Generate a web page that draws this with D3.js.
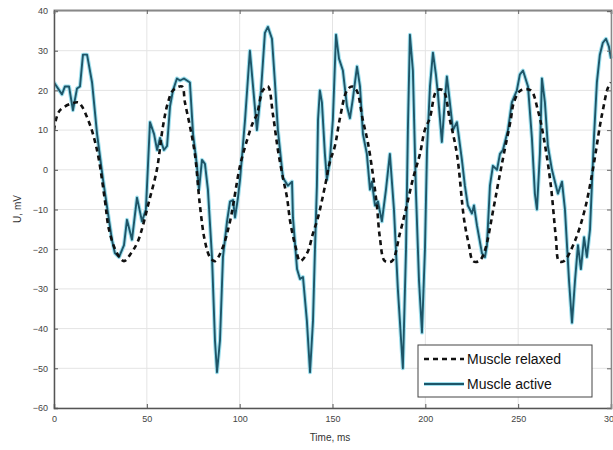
<!DOCTYPE html>
<html><head><meta charset="utf-8">
<script src="https://cdn.jsdelivr.net/npm/d3@7"></script>
<style>html,body{margin:0;padding:0;background:#fff;overflow:hidden}</style>
</head><body><svg id="c" width="613" height="450"></svg>
<script>
const xTicks = [0, 50, 100, 150, 200, 250, 300];
const yTicks = [40, 30, 20, 10, 0, -10, -20, -30, -40, -50, -60];
const seriesNames = ["Muscle relaxed", "Muscle active"];
const xTitle = "Time, ms";
const yTitle = "U, mV";

const relaxedT = [0,3.2,13,15,18,21,24,27.5,29.6,33.9,37.7,41.5,45.2,51.7,55.4,58.7,61.4,64.1,68.9,70.5,73.2,75.9,78.6,81.3,84,86.7,90.5,94.8,100.2,104,107.2,109.3,112.5,115.2,117.9,120.6,123.3,125.5,127.2,129.9,132.6,136.3,139.5,142.2,146,148.6,151.3,154,157.8,160.5,163,166.3,169,171.7,173.9,175.5,178.2,182,186.3,190,193.2,197.1,199.7,202.4,206.2,209.5,213.2,217,220.9,223.5,225.7,228.9,231.6,237,239.6,242.3,246,247.7,251.4,256.8,260.6,263.8,267.6,270.3,272,274.6,280.5,285.9,290.2,294,295.6,298.3,300];
const relaxedV = [10,15,17,16,13,9,3,-8,-15,-21,-23,-21,-18,-7,0,11,17,20,21,17,11,4,-9,-18,-22,-23,-20,-13,1,7.5,12,14,20,21,14,5,-2,-7,-13,-19,-23,-21,-16,-12,-4,2,6,13,20,21,20,12.6,7,-1,-9,-17,-23,-23,-16,-9,-2.5,4,10,13,20,20,12.6,4,-12.6,-19,-23,-23,-21,-9,-2.5,4,12.6,17,20,20,15,8,-4,-17,-23,-23,-18,-10,0,11,15,20.6,22];

const activeT = [0,4.3,5.9,8.1,10.2,12.4,14,15.6,17.8,20.5,23.2,26.4,29.1,31.2,32.8,35,37.7,39.3,42,44.7,47.4,49.5,51.7,53.9,55.5,57.1,59.2,60.9,62.5,64.1,66.2,67.9,70,73.2,74.9,77,78.1,79.7,81.3,82.9,85.1,86.7,87.8,89.4,91,93.2,94.8,96.4,97.5,99.1,100.2,102.9,105.5,107.2,109.3,111.5,113.6,115.2,117.4,119,120.6,123.3,126,128.2,128.7,130.9,132.5,134.1,136.2,137.9,139.5,140.5,141.6,142.2,143.2,144.3,145.9,147,148.6,150.2,151.9,153.5,155.6,157.8,159.4,161,163.2,164.8,166.4,168.5,170.2,171.2,172.9,174.5,176.6,178.8,180.9,183.1,185.2,187.9,189.6,190.6,191.7,193.3,194.9,196.6,198.2,199.8,200.9,202.5,204.1,205.7,206.8,208.9,210.6,211.6,213.2,214.9,217,219.7,221.3,222.9,225.1,226.2,227.8,230.5,232.1,233.2,234.8,236.4,238.6,240.2,241.8,244.5,246.6,249.3,250.9,252.6,255.3,257.4,259,260.1,261.7,262.8,264.4,266,268.2,269.8,271.4,273.6,275.2,277.4,279,280.6,282.2,283.8,285.5,287,288.7,290.8,292.4,294,295.6,297.3,298.9,300];
const activeV = [22,19,21,21,15,20.5,21,29,29,22,9,-2.5,-11,-17.6,-21,-22,-19,-12.6,-17.6,-7,-13,-10,12,9,5,8,5,6,16,20,23,22.5,23,22,9,1,-5,2.5,1.5,-5,-22,-43,-51,-43,-22,-13,-8,-7.6,-12,-7,-2.5,12.6,30,21,10,20,34.5,36,33,22,10,-2,-4,-3,-12,-25,-27.5,-27,-38,-51,-38,-21,-4,12.6,20,17,4,-2.5,2.5,12.6,34,28,25,16,13,18,26,21,9,4,-5,-3,-9,-8,-13,-5,4,-10,-30,-50,-20,10,34,25,-5,-28,-41,-20,5,21,29.5,24,19,7,18,23.5,17,10,12,2.5,-4,-9,-11,-9,-14,-21,-22,-19,-4,1,0,4,5,10,17,20,24,25,21,8,-6,-10,4,23,17,6,0,-3,-6,-3,-10,-28,-38.5,-28,-19,-25,-17,-22,-15,8,22,29,32,33,31,28];

const svg = d3.select("#c");
const x = d3.scaleLinear().domain([0, 300]).range([54, 611]);
const y = d3.scaleLinear().domain([-60, 40]).range([408, 11]);
const fontFam = "'Liberation Sans', Arial, sans-serif";

// grid
const g = svg.append("g");
g.selectAll("line.gx").data(xTicks).enter().append("line")
  .attr("x1", d => x(d)).attr("x2", d => x(d)).attr("y1", y(40)).attr("y2", y(-60))
  .attr("stroke", "#e4e4e4").attr("stroke-width", 1);
g.selectAll("line.gy").data(yTicks).enter().append("line")
  .attr("x1", x(0)).attr("x2", x(300)).attr("y1", d => y(d)).attr("y2", d => y(d))
  .attr("stroke", "#e4e4e4").attr("stroke-width", 1);

// lines
const relaxed = relaxedT.map((t, i) => [t, relaxedV[i]]);
const active = activeT.map((t, i) => [t, activeV[i]]);
const lineR = d3.line().x(d => x(d[0])).y(d => y(d[1])).curve(d3.curveCatmullRom);
const lineA = d3.line().x(d => x(d[0])).y(d => y(d[1]));

const clip = svg.append("clipPath").attr("id", "pc").append("rect")
  .attr("x", 54).attr("y", 10).attr("width", 559).attr("height", 399);
const pl = svg.append("g").attr("clip-path", "url(#pc)");
pl.append("path").datum(active).attr("d", lineA).attr("fill", "none")
  .attr("stroke", "#9fe0ee").attr("stroke-width", 4).attr("stroke-linejoin", "round");
pl.append("path").datum(active).attr("d", lineA).attr("fill", "none")
  .attr("stroke", "#1e5568").attr("stroke-width", 1.9).attr("stroke-linejoin", "round");
pl.append("path").datum(relaxed).attr("d", lineR).attr("fill", "none")
  .attr("stroke", "#111").attr("stroke-width", 2.6).attr("stroke-dasharray", "5,4");

// axes
const ax = svg.append("g").attr("font-family", fontFam);
const xAxis = d3.axisBottom(x).tickValues(xTicks).tickSize(-4).tickPadding(8);
const yAxis = d3.axisLeft(y).tickValues(yTicks).tickSize(-4).tickPadding(6);
const xa = ax.append("g").attr("transform", "translate(0,408)").call(xAxis);
const ya = ax.append("g").attr("transform", "translate(54,0)").call(yAxis);
[xa, ya].forEach(a => {
  a.select(".domain").attr("stroke", "#555").attr("stroke-width", 1.5);
  a.selectAll(".tick line").attr("stroke", "#555");
  a.selectAll(".tick text").attr("font-size", 9).attr("fill", "#444").attr("font-family", fontFam);
});
// top & right box
const xTop = d3.axisTop(x).tickValues(xTicks).tickSize(-4).tickFormat("");
const xt = ax.append("g").attr("transform", "translate(0,10)").call(xTop);
xt.select(".domain").attr("stroke", "#888").attr("stroke-width", 2);
xt.selectAll(".tick line").attr("stroke", "#666");
const yRight = d3.axisRight(y).tickValues(yTicks).tickSize(-4).tickFormat("");
const yr = ax.append("g").attr("transform", "translate(611,0)").call(yRight);
yr.select(".domain").attr("stroke", "#888").attr("stroke-width", 1.5);
yr.selectAll(".tick line").attr("stroke", "#666");

svg.append("text").attr("x", 330).attr("y", 441).attr("text-anchor", "middle")
  .attr("font-family", fontFam).attr("font-size", 10).attr("fill", "#333").text(xTitle);
svg.append("text").attr("transform", "translate(21,209) rotate(-90)").attr("text-anchor", "middle")
  .attr("font-family", fontFam).attr("font-size", 10).attr("fill", "#333").text(yTitle);

// legend
const lg = svg.append("g");
lg.append("rect").attr("x", 418).attr("y", 345).attr("width", 174).attr("height", 52)
  .attr("fill", "#fff").attr("stroke", "#444").attr("stroke-width", 1);
lg.append("line").attr("x1", 424).attr("x2", 464).attr("y1", 359).attr("y2", 359)
  .attr("stroke", "#111").attr("stroke-width", 2.6).attr("stroke-dasharray", "5,4");
lg.append("line").attr("x1", 424).attr("x2", 464).attr("y1", 384).attr("y2", 384)
  .attr("stroke", "#9fe0ee").attr("stroke-width", 4);
lg.append("line").attr("x1", 424).attr("x2", 464).attr("y1", 384).attr("y2", 384)
  .attr("stroke", "#1e5568").attr("stroke-width", 1.9);
lg.selectAll("text.l").data(seriesNames).enter().append("text")
  .attr("x", 467).attr("y", (d, i) => 364 + i * 25)
  .attr("font-family", fontFam).attr("font-size", 14).attr("fill", "#111").text(d => d);
</script></body></html>
